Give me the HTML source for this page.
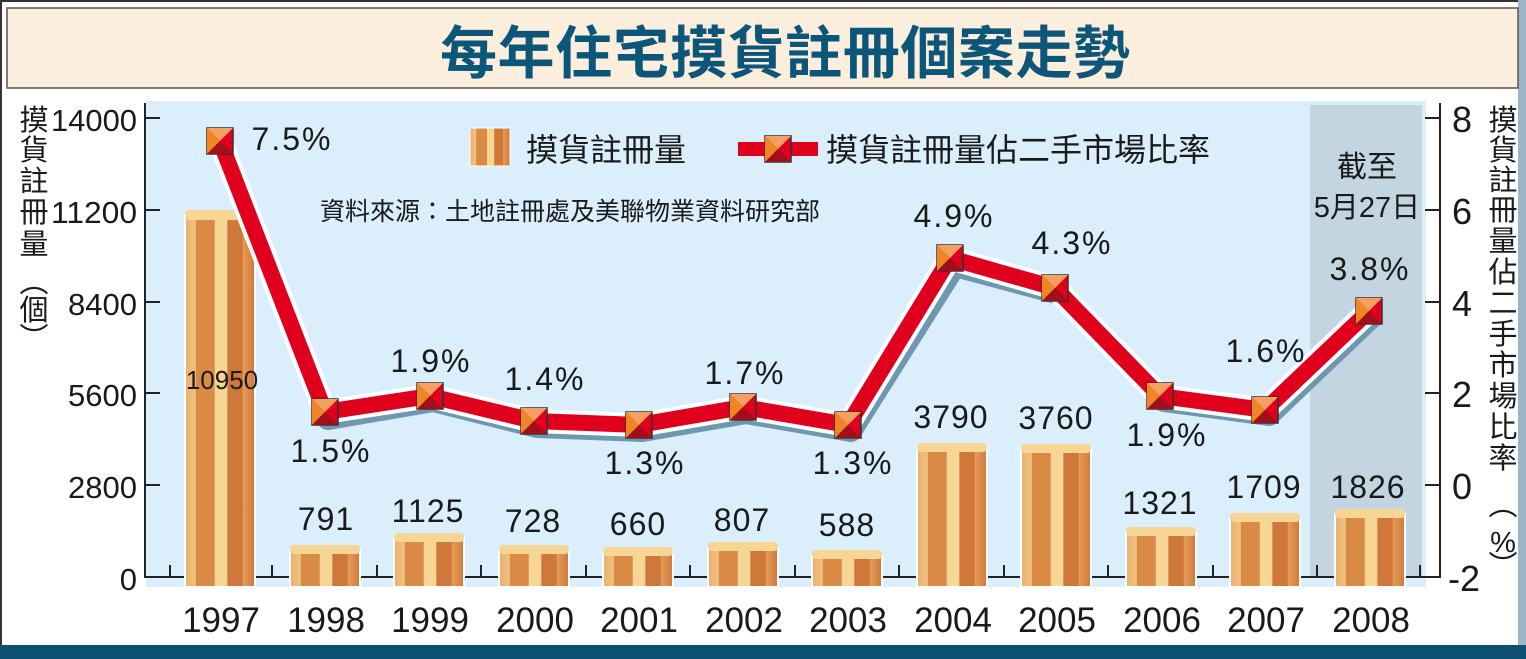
<!DOCTYPE html>
<html><head><meta charset="utf-8"><style>
body{margin:0;width:1526px;height:659px;overflow:hidden;background:#fff}
svg{display:block}
text{font-family:"Liberation Sans","Noto Sans CJK TC",sans-serif;fill:#1a1a1a}
</style></head><body>
<svg width="1526" height="659" viewBox="0 0 1526 659">
<defs>
<linearGradient id="bar" x1="0" x2="1" y1="0" y2="0">
<stop offset="0" stop-color="#e9b06f"/><stop offset="0.15" stop-color="#f2c27f"/>
<stop offset="0.16" stop-color="#d98a45"/><stop offset="0.42" stop-color="#d98a45"/>
<stop offset="0.43" stop-color="#f6d595"/><stop offset="0.6" stop-color="#f6d595"/>
<stop offset="0.61" stop-color="#d0783a"/><stop offset="0.82" stop-color="#d0783a"/>
<stop offset="0.83" stop-color="#e59c58"/><stop offset="1" stop-color="#d0783a"/>
</linearGradient>
</defs>
<rect x="0" y="0" width="1526" height="659" fill="#fff"/>
<rect x="1" y="1" width="1524" height="657" fill="none" stroke="#333" stroke-width="2"/>
<rect x="1518" y="0" width="8" height="659" fill="#9fb4c4"/>
<rect x="7" y="8" width="1511" height="80" fill="#fbeedd" stroke="#555" stroke-width="1.5"/>
<text x="785" y="73" text-anchor="middle" font-size="57" font-weight="bold" style="fill:#0c5679" textLength="690" lengthAdjust="spacing">每年住宅摸貨註冊個案走勢</text>
<rect x="146" y="101" width="1280" height="486" fill="#daeefb"/>
<rect x="1310" y="105" width="112" height="472" fill="#c2d5e0"/>
<rect x="0" y="645" width="1526" height="14" fill="#0c4f70"/>
<line x1="145" y1="103" x2="145" y2="578" stroke="#222" stroke-width="2"/>
<line x1="145" y1="577" x2="1440" y2="577" stroke="#222" stroke-width="2"/>
<line x1="1440" y1="103" x2="1440" y2="578" stroke="#222" stroke-width="2"/>
<g stroke="#222" stroke-width="2">
<line x1="145" y1="118" x2="160" y2="118"/><line x1="145" y1="210" x2="160" y2="210"/><line x1="145" y1="302" x2="160" y2="302"/><line x1="145" y1="393" x2="160" y2="393"/><line x1="145" y1="485" x2="160" y2="485"/>
<line x1="1425" y1="118" x2="1440" y2="118"/><line x1="1425" y1="210" x2="1440" y2="210"/><line x1="1425" y1="302" x2="1440" y2="302"/><line x1="1425" y1="393" x2="1440" y2="393"/><line x1="1425" y1="485" x2="1440" y2="485"/>
<line x1="170" y1="577" x2="170" y2="565"/><line x1="272" y1="577" x2="272" y2="565"/><line x1="377" y1="577" x2="377" y2="565"/><line x1="481" y1="577" x2="481" y2="565"/><line x1="586" y1="577" x2="586" y2="565"/><line x1="690" y1="577" x2="690" y2="565"/><line x1="795" y1="577" x2="795" y2="565"/><line x1="899" y1="577" x2="899" y2="565"/><line x1="1004" y1="577" x2="1004" y2="565"/><line x1="1108" y1="577" x2="1108" y2="565"/><line x1="1213" y1="577" x2="1213" y2="565"/><line x1="1317" y1="577" x2="1317" y2="565"/><line x1="1420" y1="577" x2="1420" y2="565"/>
</g>
<g font-size="31" text-anchor="end">
<text x="137" y="131" textLength="86" lengthAdjust="spacingAndGlyphs">14000</text><text x="137" y="223" textLength="86" lengthAdjust="spacingAndGlyphs">11200</text><text x="137" y="315">8400</text><text x="137" y="406">5600</text><text x="137" y="498">2800</text><text x="137" y="590">0</text>
</g>
<g font-size="36">
<text x="1452" y="132">8</text><text x="1452" y="224">6</text><text x="1452" y="316">4</text><text x="1452" y="407">2</text><text x="1452" y="499">0</text><text x="1448" y="591">-2</text>
</g>
<g font-size="29" text-anchor="middle">
<text x="34" y="130">摸</text><text x="34" y="160">貨</text><text x="34" y="191">註</text><text x="34" y="222">冊</text><text x="34" y="254">量</text><text x="34" y="292">︵</text><text x="34" y="320">個</text><text x="34" y="348">︶</text>
<text x="1503" y="130">摸</text><text x="1503" y="160">貨</text><text x="1503" y="190">註</text><text x="1503" y="220">冊</text><text x="1503" y="251">量</text><text x="1503" y="282">佔</text><text x="1503" y="313">二</text><text x="1503" y="344">手</text><text x="1503" y="375">市</text><text x="1503" y="406">場</text><text x="1503" y="437">比</text><text x="1503" y="468">率</text><text x="1503" y="515">︵</text><text x="1503" y="552">%</text><text x="1503" y="576">︶</text>
</g>
<g stroke="#fff" stroke-width="2">
<rect x="185" y="215" width="70" height="372" fill="url(#bar)"/>
<rect x="290" y="550" width="70" height="37" fill="url(#bar)"/>
<rect x="394" y="538" width="70" height="49" fill="url(#bar)"/>
<rect x="499" y="550" width="70" height="37" fill="url(#bar)"/>
<rect x="603" y="552" width="70" height="35" fill="url(#bar)"/>
<rect x="708" y="547" width="70" height="40" fill="url(#bar)"/>
<rect x="812" y="555" width="70" height="32" fill="url(#bar)"/>
<rect x="917" y="448" width="70" height="139" fill="url(#bar)"/>
<rect x="1021" y="449" width="70" height="138" fill="url(#bar)"/>
<rect x="1126" y="532" width="70" height="55" fill="url(#bar)"/>
<rect x="1230" y="518" width="70" height="69" fill="url(#bar)"/>
<rect x="1335" y="514" width="70" height="73" fill="url(#bar)"/>
</g>
<g fill="#f6d595">
<rect x="185" y="210" width="70" height="10" rx="4"/><rect x="290" y="545" width="70" height="9" rx="4"/><rect x="394" y="533" width="70" height="9" rx="4"/><rect x="499" y="545" width="70" height="9" rx="4"/><rect x="603" y="547" width="70" height="9" rx="4"/><rect x="708" y="542" width="70" height="9" rx="4"/><rect x="812" y="550" width="70" height="9" rx="4"/><rect x="917" y="443" width="70" height="9" rx="4"/><rect x="1021" y="444" width="70" height="9" rx="4"/><rect x="1126" y="527" width="70" height="9" rx="4"/><rect x="1230" y="513" width="70" height="9" rx="4"/><rect x="1335" y="509" width="70" height="9" rx="4"/>
</g>
<polyline points="222,147 328,419 433,401 537,427 642,431 746,413 851,431 955,266 1060,294 1164,401 1269,415 1373,316" fill="none" stroke="#6e98b0" stroke-width="22" stroke-linejoin="round"/>
<polyline points="220,141 325,412 430,396 534,421 639,425 743,407 848,425 950,258 1055,288 1160,396 1265,410 1369,311" fill="none" stroke="#fff" stroke-width="24" stroke-linejoin="round"/>
<polyline points="220,141 325,412 430,396 534,421 639,425 743,407 848,425 950,258 1055,288 1160,396 1265,410 1369,311" fill="none" stroke="#e0001e" stroke-width="16" stroke-linejoin="round"/>
<g>
<g transform="translate(220,141)"><rect x="-13" y="-13" width="26" height="26" fill="#e0001e" stroke="#333" stroke-width="1.5"/><path d="M-13,-13L13,-13L0,0Z" fill="#f4a060"/><path d="M-13,-13L0,0L-13,13Z" fill="#ef8525"/><path d="M-13,13L0,0L13,13Z" fill="#a0101a"/></g>
<g transform="translate(325,412)"><rect x="-13" y="-13" width="26" height="26" fill="#e0001e" stroke="#333" stroke-width="1.5"/><path d="M-13,-13L13,-13L0,0Z" fill="#f4a060"/><path d="M-13,-13L0,0L-13,13Z" fill="#ef8525"/><path d="M-13,13L0,0L13,13Z" fill="#a0101a"/></g>
<g transform="translate(430,396)"><rect x="-13" y="-13" width="26" height="26" fill="#e0001e" stroke="#333" stroke-width="1.5"/><path d="M-13,-13L13,-13L0,0Z" fill="#f4a060"/><path d="M-13,-13L0,0L-13,13Z" fill="#ef8525"/><path d="M-13,13L0,0L13,13Z" fill="#a0101a"/></g>
<g transform="translate(534,421)"><rect x="-13" y="-13" width="26" height="26" fill="#e0001e" stroke="#333" stroke-width="1.5"/><path d="M-13,-13L13,-13L0,0Z" fill="#f4a060"/><path d="M-13,-13L0,0L-13,13Z" fill="#ef8525"/><path d="M-13,13L0,0L13,13Z" fill="#a0101a"/></g>
<g transform="translate(639,425)"><rect x="-13" y="-13" width="26" height="26" fill="#e0001e" stroke="#333" stroke-width="1.5"/><path d="M-13,-13L13,-13L0,0Z" fill="#f4a060"/><path d="M-13,-13L0,0L-13,13Z" fill="#ef8525"/><path d="M-13,13L0,0L13,13Z" fill="#a0101a"/></g>
<g transform="translate(743,407)"><rect x="-13" y="-13" width="26" height="26" fill="#e0001e" stroke="#333" stroke-width="1.5"/><path d="M-13,-13L13,-13L0,0Z" fill="#f4a060"/><path d="M-13,-13L0,0L-13,13Z" fill="#ef8525"/><path d="M-13,13L0,0L13,13Z" fill="#a0101a"/></g>
<g transform="translate(848,425)"><rect x="-13" y="-13" width="26" height="26" fill="#e0001e" stroke="#333" stroke-width="1.5"/><path d="M-13,-13L13,-13L0,0Z" fill="#f4a060"/><path d="M-13,-13L0,0L-13,13Z" fill="#ef8525"/><path d="M-13,13L0,0L13,13Z" fill="#a0101a"/></g>
<g transform="translate(950,258)"><rect x="-13" y="-13" width="26" height="26" fill="#e0001e" stroke="#333" stroke-width="1.5"/><path d="M-13,-13L13,-13L0,0Z" fill="#f4a060"/><path d="M-13,-13L0,0L-13,13Z" fill="#ef8525"/><path d="M-13,13L0,0L13,13Z" fill="#a0101a"/></g>
<g transform="translate(1055,288)"><rect x="-13" y="-13" width="26" height="26" fill="#e0001e" stroke="#333" stroke-width="1.5"/><path d="M-13,-13L13,-13L0,0Z" fill="#f4a060"/><path d="M-13,-13L0,0L-13,13Z" fill="#ef8525"/><path d="M-13,13L0,0L13,13Z" fill="#a0101a"/></g>
<g transform="translate(1160,396)"><rect x="-13" y="-13" width="26" height="26" fill="#e0001e" stroke="#333" stroke-width="1.5"/><path d="M-13,-13L13,-13L0,0Z" fill="#f4a060"/><path d="M-13,-13L0,0L-13,13Z" fill="#ef8525"/><path d="M-13,13L0,0L13,13Z" fill="#a0101a"/></g>
<g transform="translate(1265,410)"><rect x="-13" y="-13" width="26" height="26" fill="#e0001e" stroke="#333" stroke-width="1.5"/><path d="M-13,-13L13,-13L0,0Z" fill="#f4a060"/><path d="M-13,-13L0,0L-13,13Z" fill="#ef8525"/><path d="M-13,13L0,0L13,13Z" fill="#a0101a"/></g>
<g transform="translate(1369,311)"><rect x="-13" y="-13" width="26" height="26" fill="#e0001e" stroke="#333" stroke-width="1.5"/><path d="M-13,-13L13,-13L0,0Z" fill="#f4a060"/><path d="M-13,-13L0,0L-13,13Z" fill="#ef8525"/><path d="M-13,13L0,0L13,13Z" fill="#a0101a"/></g>
</g>
<g font-size="32" text-anchor="middle" letter-spacing="2">
<text x="292" y="150">7.5%</text><text x="331" y="462">1.5%</text><text x="431" y="372">1.9%</text><text x="545" y="390">1.4%</text><text x="645" y="474">1.3%</text><text x="745" y="384">1.7%</text><text x="853" y="474">1.3%</text><text x="954" y="227">4.9%</text><text x="1072" y="254">4.3%</text><text x="1167" y="446">1.9%</text><text x="1266" y="362">1.6%</text><text x="1370" y="280">3.8%</text>
</g>
<g font-size="32" text-anchor="middle" letter-spacing="1">
<text x="222" y="389" font-size="26" letter-spacing="0">10950</text><text x="326" y="530">791</text><text x="428" y="522">1125</text><text x="533" y="532">728</text><text x="638" y="535">660</text><text x="742" y="531">807</text><text x="847" y="536">588</text><text x="951" y="428">3790</text><text x="1056" y="429">3760</text><text x="1160" y="514">1321</text><text x="1264" y="498">1709</text><text x="1368" y="498">1826</text>
</g>
<g font-size="35" text-anchor="middle">
<text x="221" y="632">1997</text><text x="326" y="632">1998</text><text x="430" y="632">1999</text><text x="535" y="632">2000</text><text x="639" y="632">2001</text><text x="744" y="632">2002</text><text x="848" y="632">2003</text><text x="953" y="632">2004</text><text x="1057" y="632">2005</text><text x="1162" y="632">2006</text><text x="1266" y="632">2007</text><text x="1371" y="632">2008</text>
</g>
<text x="1367" y="177" font-size="30" text-anchor="middle">截至</text>
<text x="1367" y="217" font-size="29" text-anchor="middle">5月27日</text>
<rect x="470" y="128" width="40" height="38" fill="url(#bar)" stroke="#fff" stroke-width="1"/>
<text x="526" y="161" font-size="32">摸貨註冊量</text>
<line x1="738" y1="149" x2="818" y2="149" stroke="#e0001e" stroke-width="14"/>
<g transform="translate(778,149)"><rect x="-13" y="-13" width="26" height="26" fill="#e0001e" stroke="#333" stroke-width="1.5"/><path d="M-13,-13L13,-13L0,0Z" fill="#f4a060"/><path d="M-13,-13L0,0L-13,13Z" fill="#ef8525"/><path d="M-13,13L0,0L13,13Z" fill="#a0101a"/></g>
<text x="826" y="161" font-size="32">摸貨註冊量佔二手市場比率</text>
<text x="320" y="220" font-size="25">資料來源：土地註冊處及美聯物業資料研究部</text>
</svg>
</body></html>
